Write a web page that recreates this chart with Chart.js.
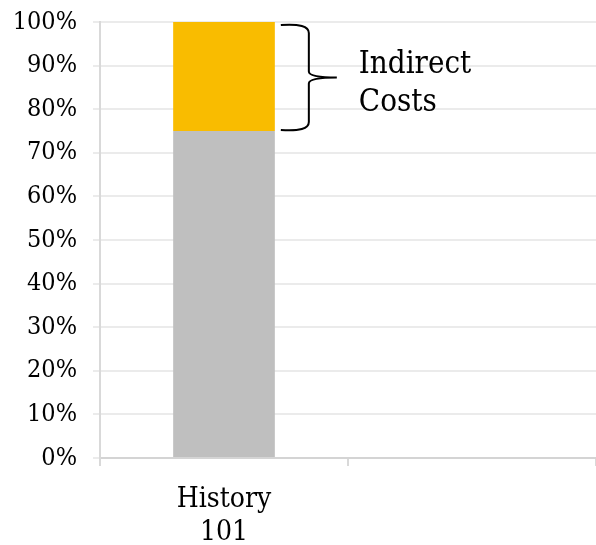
<!DOCTYPE html>
<html>
<head>
<meta charset="utf-8">
<script src="https://cdn.jsdelivr.net/npm/chart.js@4"></script>
<style>
  html, body { margin: 0; padding: 0; background: #fff; }
  #wrap { width: 596px; height: 545px; }
</style>
</head>
<body>
<div id="wrap"><canvas id="costChart"></canvas></div>
<script>
const categories = [['History', '101'], ''];
const directValues = [75, null];
const indirectValues = [25, null];
const yTicks = [0, 10, 20, 30, 40, 50, 60, 70, 80, 90, 100];
const braceLabel = ['Indirect', 'Costs'];

const ColorGold = '#F9BC00';
const ColorGrey = '#BFBFBF';
const FontFam = "'DejaVu Serif Condensed', 'DejaVu Serif', serif";

/* brace + label next to the indirect segment */
const brace = {
  id: 'brace',
  afterDatasetsDraw(chart) {
    const {ctx, scales: {y}} = chart;
    const bar = chart.getDatasetMeta(1).data[0];
    if (!bar) return;
    const x0 = bar.x + bar.width / 2 + 6;
    const top = y.getPixelForValue(100) + 3;
    const bot = y.getPixelForValue(75) - 1;
    const mid = (top + bot) / 2;
    const xs = x0 + 28;
    const tip = x0 + 56;
    ctx.save();
    ctx.strokeStyle = '#000';
    ctx.lineWidth = 2;
    ctx.beginPath();
    ctx.moveTo(x0, top);
    ctx.quadraticCurveTo(xs, top - 2, xs, top + 8);
    ctx.lineTo(xs, mid - 6);
    ctx.quadraticCurveTo(xs, mid, tip, mid);
    ctx.quadraticCurveTo(xs, mid, xs, mid + 6);
    ctx.lineTo(xs, bot - 8);
    ctx.quadraticCurveTo(xs, bot + 2, x0, bot);
    ctx.stroke();
    ctx.fillStyle = '#000';
    ctx.font = '31px ' + FontFam;
    ctx.textAlign = 'left';
    ctx.textBaseline = 'alphabetic';
    ctx.fillText(braceLabel[0], tip + 22, mid - 5);
    ctx.fillText(braceLabel[1], tip + 22, mid + 33);
    ctx.restore();
  }
};

const config = {
  type: 'bar',
  data: {
    labels: categories,
    datasets: [{
      label: 'Direct Costs',
      data: directValues,
      backgroundColor: ColorGrey,
      categoryPercentage: 0.41,
      barPercentage: 1
    }, {
      label: 'Indirect Costs',
      data: indirectValues,
      backgroundColor: ColorGold,
      categoryPercentage: 0.41,
      barPercentage: 1
    }]
  },
  options: {
    responsive: true,
    maintainAspectRatio: false,
    animation: false,
    layout: { padding: { top: 0, right: 0, left: 0, bottom: 0 } },
    plugins: {
      legend: { display: false },
      tooltip: { enabled: false }
    },
    scales: {
      x: {
        stacked: true,
        grid: {
          offset: true,
          drawOnChartArea: false,
          drawTicks: true,
          tickLength: 8,
          color: '#d9d9d9',
          lineWidth: 2
        },
        border: { color: '#d4d4d4', width: 2 },
        ticks: {
          color: '#000',
          padding: 18,
          maxRotation: 0,
          font: { family: FontFam, size: 28, lineHeight: 1.15 }
        },
        afterFit(scale) { scale.height = 87; }
      },
      y: {
        stacked: true,
        min: 0,
        max: 100,
        afterBuildTicks(scale) { scale.ticks = yTicks.map(v => ({value: v})); },
        grid: {
          color: '#ebebeb',
          lineWidth: 2,
          drawTicks: true,
          tickLength: 7
        },
        border: { color: '#d9d9d9', width: 2 },
        ticks: {
          color: '#000',
          padding: 16,
          font: { family: FontFam, size: 25 },
          callback: v => v + '%'
        },
        afterFit(scale) {
          scale.width = 100;
          scale.paddingTop = 22;
          scale.paddingBottom = 0;
        }
      }
    }
  },
  plugins: [brace]
};

var costChart = new Chart(
  document.getElementById('costChart').getContext('2d'),
  config
);
</script>
</body>
</html>
